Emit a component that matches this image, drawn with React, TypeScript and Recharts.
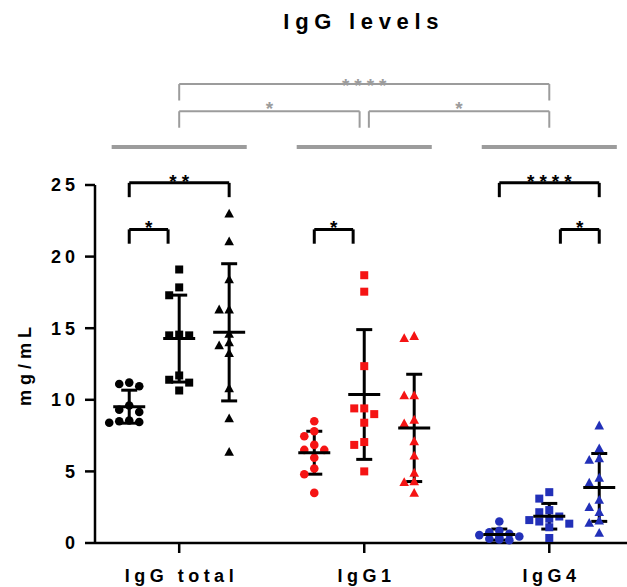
import React from "react";
import { ScatterChart, Scatter, XAxis, YAxis, ErrorBar, ReferenceLine } from "recharts";

const categories = ["IgG total", "IgG1", "IgG4"];

// columns: circles, squares, triangles for each category
const totalCircles = [11.2, 11.1, 10.95, 9.6, 9.3, 9.15, 8.55, 8.5, 8.45, 8.4];
const totalSquares = [19.1, 17.85, 17.3, 14.55, 14.5, 14.5, 11.7, 11.4, 11.2, 10.65];
const totalTriangles = [23.0, 21.05, 18.4, 16.3, 16.3, 14.6, 14.0, 13.8, 13.25, 10.8, 8.7, 6.35];
const igg1Circles = [8.5, 7.8, 7.45, 6.85, 6.5, 6.5, 5.95, 5.2, 4.8, 3.5];
const igg1Squares = [18.7, 17.55, 12.35, 9.4, 9.4, 9.0, 8.4, 7.05, 6.85, 5.0];
const igg1Triangles = [14.45, 14.3, 10.3, 10.3, 8.6, 8.35, 7.1, 6.1, 4.9, 4.3, 4.25, 3.5];
const igg4Circles = [1.5, 0.85, 0.75, 0.65, 0.55, 0.45, 0.4, 0.3, 0.25, 0.2];
const igg4Squares = [3.55, 3.1, 2.3, 2.15, 1.85, 1.7, 1.6, 1.5, 1.35, 1.1, 0.35];
const igg4Triangles = [8.2, 6.6, 5.9, 5.8, 4.55, 4.2, 3.0, 2.5, 2.15, 1.55, 1.4, 0.7];

const yTicks = [0, 5, 10, 15, 20, 25];

// within-category comparisons (columns 0..2), tier 0 = low, 1 = high
const withinStars = [
  { group: 0, from: 0, to: 1, tier: 0, stars: "*" },
  { group: 0, from: 0, to: 2, tier: 1, stars: "**" },
  { group: 1, from: 0, to: 1, tier: 0, stars: "*" },
  { group: 2, from: 0, to: 2, tier: 1, stars: "****" },
  { group: 2, from: 1, to: 2, tier: 0, stars: "*" },
];
// between-category comparisons
const betweenStars = [
  { from: 0, to: 2, tier: 1, stars: "****" },
  { from: 0, to: 1, tier: 0, stars: "*" },
  { from: 1, to: 2, tier: 0, stars: "*" },
];

const columns = [
  [totalCircles, totalSquares, totalTriangles],
  [igg1Circles, igg1Squares, igg1Triangles],
  [igg4Circles, igg4Squares, igg4Triangles],
];

const colors = ["#000000", "#f51414", "#2230b8"];
const GRAY = "#9c9c9c";
const FONT = "'Liberation Sans', Arial, sans-serif";

const W = 627;
const H = 587;
const LEFT = 95;
const TOP = 185;
const XAXIS_H = 44;
const X_DOMAIN: [number, number] = [-0.455, 2.42];
const PX_X = (W - LEFT) / (X_DOMAIN[1] - X_DOMAIN[0]);
const PX_Y = (H - TOP - XAXIS_H) / 25;
const SUB = 0.27;
const STEP = 10;

const BLACK_TOP = [21.9, 25.15];
const BLACK_LEG = 1.0;
const GRAY_TOP = [30.15, 32.05];
const GRAY_LEG = 1.15;
const GRAY_BAR = 27.65;

// simple deterministic dot-plot spreading, at most two slots each side
function swarm(values: number[]) {
  const placed: { dx: number; v: number }[] = [];
  const slots = [0, -1, 1, -2, 2];
  return values.map((v) => {
    let best = 0;
    let bestHits = Infinity;
    for (const slot of slots) {
      const dx = slot * STEP;
      const hits = placed.filter(
        (p) => Math.abs(p.dx - dx) < STEP * 0.9 && Math.abs(p.v - v) * PX_Y < 8
      ).length;
      if (hits < bestHits) {
        bestHits = hits;
        best = dx;
      }
      if (hits === 0) break;
    }
    placed.push({ dx: best, v });
    return best / PX_X;
  });
}

const mean = (a: number[]) => a.reduce((s, v) => s + v, 0) / a.length;
const sd = (a: number[]) => {
  const m = mean(a);
  return Math.sqrt(a.reduce((s, v) => s + (v - m) ** 2, 0) / (a.length - 1));
};

const shapes = [
  (color: string) => (p: any) => <circle cx={p.cx} cy={p.cy} r={4.3} fill={color} />,
  (color: string) => (p: any) => (
    <rect x={p.cx - 4} y={p.cy - 4} width={8} height={8} fill={color} />
  ),
  (color: string) => (p: any) => (
    <polygon
      points={`${p.cx},${p.cy - 5} ${p.cx - 4.8},${p.cy + 3.8} ${p.cx + 4.8},${p.cy + 3.8}`}
      fill={color}
    />
  ),
];

const meanLine = (p: any) => (
  <line x1={p.cx - 16} x2={p.cx + 16} y1={p.cy} y2={p.cy} stroke="#000" strokeWidth={3} />
);

const starLabel = (text: string, color: string, lift: number) => (props: any) => {
  const vb = props.viewBox;
  return (
    <text
      x={vb.x + vb.width / 2 + 2.5}
      y={vb.y + lift}
      textAnchor="middle"
      fill={color}
      fontSize={19}
      fontWeight="bold"
      fontFamily={FONT}
      style={{ letterSpacing: 5 }}
    >
      {text}
    </text>
  );
};

function Bracket({ x1, x2, top, leg, color, width, stars, lift }: any) {
  return (
    <>
      <ReferenceLine segment={[{ x: x1, y: top - leg }, { x: x1, y: top }]} stroke={color} strokeWidth={width} ifOverflow="visible" />
      <ReferenceLine segment={[{ x: x2, y: top - leg }, { x: x2, y: top }]} stroke={color} strokeWidth={width} ifOverflow="visible" />
      <ReferenceLine
        segment={[{ x: x1, y: top }, { x: x2, y: top }]}
        stroke={color}
        strokeWidth={width}
        ifOverflow="visible"
        label={starLabel(stars, color, lift)}
      />
    </>
  );
}

const XTick = (p: any) => (
  <text x={p.x + 2.2} y={p.y} dy="0.71em" textAnchor="middle" fontSize={18} fontWeight="bold" fontFamily={FONT} fill="#000" style={{ letterSpacing: 4.5 }}>
    {categories[p.payload.value]}
  </text>
);

const YTick = (p: any) => (
  <text x={p.x} y={p.y} dy="0.36em" textAnchor="end" fontSize={18} fontWeight="bold" fontFamily={FONT} fill="#000" style={{ letterSpacing: 4 }}>
    {p.payload.value}
  </text>
);

const YLabel = (props: any) => {
  const vb = props.viewBox;
  const x = vb.x + 25;
  const y = vb.y + vb.height / 2;
  return (
    <text x={x} y={y} transform={`rotate(-90, ${x}, ${y})`} textAnchor="middle" dominantBaseline="central" fontSize={18} fontWeight="bold" fontFamily={FONT} fill="#000" style={{ letterSpacing: 5 }}>
      mg/mL
    </text>
  );
};

export default function App() {
  const series: any[] = [];
  const summary: any[] = [];
  columns.forEach((cols, g) => {
    cols.forEach((vals, s) => {
      const center = g + (s - 1) * SUB;
      const jit = swarm(vals);
      series.push({
        key: `${g}-${s}`,
        data: vals.map((v, i) => ({ x: center + jit[i], y: v })),
        shape: shapes[s](colors[g]),
      });
      summary.push({ x: center, y: mean(vals), sd: sd(vals) });
    });
  });

  const colX = (g: number, c: number) => g + (c - 1) * SUB;

  return (
    <div style={{ position: "absolute", left: 0, top: 0, width: W, height: H, background: "#fff" }}>
      <div
        style={{
          position: "absolute",
          left: LEFT,
          width: W - LEFT,
          top: 9,
          lineHeight: "26px",
          textAlign: "center",
          fontFamily: FONT,
          fontWeight: "bold",
          fontSize: 22,
          letterSpacing: 5.7,
          paddingLeft: 5.7,
          boxSizing: "border-box",
        }}
      >
        IgG levels
      </div>
      <ScatterChart width={W} height={H} margin={{ top: TOP, right: 0, bottom: 0, left: 0 }}>
        <XAxis
          type="number"
          dataKey="x"
          domain={X_DOMAIN}
          ticks={[0, 1, 2]}
          allowDataOverflow
          height={XAXIS_H}
          tickSize={10}
          tickMargin={16}
          stroke="#000"
          strokeWidth={2.5}
          tick={XTick}
        />
        <YAxis
          type="number"
          dataKey="y"
          domain={[0, 25]}
          ticks={yTicks}
          width={LEFT}
          tickSize={10}
          tickMargin={6}
          stroke="#000"
          strokeWidth={2.5}
          tick={YTick}
          label={YLabel}
        />
        {categories.map((c, g) => (
          <ReferenceLine
            key={`bar-${c}`}
            segment={[{ x: g - 0.365, y: GRAY_BAR }, { x: g + 0.365, y: GRAY_BAR }]}
            stroke={GRAY}
            strokeWidth={4}
            ifOverflow="visible"
          />
        ))}
        {betweenStars.map((b, i) => (
          <Bracket
            key={`between-${i}`}
            x1={b.from + (b.from === 1 ? 0.025 : 0)}
            x2={b.to - (b.to === 1 ? 0.025 : 0)}
            top={GRAY_TOP[b.tier]}
            leg={GRAY_LEG}
            color={GRAY}
            width={2}
            stars={b.stars}
            lift={b.tier ? 8 : 4}
          />
        ))}
        {withinStars.map((b, i) => (
          <Bracket
            key={`within-${i}`}
            x1={colX(b.group, b.from) + (b.from === 1 ? 0.06 : 0)}
            x2={colX(b.group, b.to) - (b.to === 1 ? 0.06 : 0)}
            top={BLACK_TOP[b.tier]}
            leg={BLACK_LEG}
            color="#000"
            width={3}
            stars={b.stars}
            lift={5}
          />
        ))}
        {series.map((s) => (
          <Scatter key={s.key} data={s.data} shape={s.shape} isAnimationActive={false} />
        ))}
        <Scatter data={summary} shape={meanLine} isAnimationActive={false}>
          <ErrorBar dataKey="sd" direction="y" width={8} stroke="#000" strokeWidth={3} />
        </Scatter>
      </ScatterChart>
    </div>
  );
}
